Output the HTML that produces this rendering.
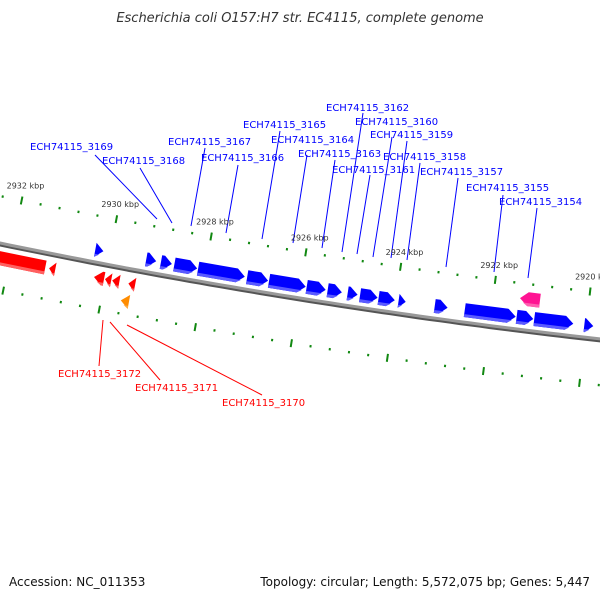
<!DOCTYPE html>
<html><head><meta charset="utf-8"><style>
body{margin:0;background:#fff}
svg{display:block;font-family:"DejaVu Sans","Liberation Sans",sans-serif}
</style></head><body>
<svg id="map" width="600" height="600" viewBox="0 0 600 600" xmlns="http://www.w3.org/2000/svg">
<text x="300" y="22" text-anchor="middle" font-size="13" font-style="italic" fill="#333">Escherichia coli O157:H7 str. EC4115, complete genome</text>
<g id="labels"></g>
<g id="ticks"></g>
<g id="backbone"></g>
<g id="genes"></g>
<text x="9" y="586" font-size="12" fill="#111">Accession: NC_011353</text>
<text x="590" y="586" text-anchor="end" font-size="12" fill="#111">Topology: circular; Length: 5,572,075 bp; Genes: 5,447</text>
</svg>
<script>
// gene data (kbp)
const fwdStarts=[2930.31,2929.24,2928.93,2928.65,2928.15,2927.12,2926.66,2925.87,2925.43,2925.01,2924.75,2924.36,2923.94,2923.18,2922.55,2921.46,2921.09,2920.04];
const fwdEnds  =[2930.14,2929.03,2928.70,2928.17,2927.17,2926.68,2925.89,2925.47,2925.13,2924.80,2924.38,2924.02,2923.79,2922.91,2921.48,2921.11,2920.27,2919.85];
const revStarts=[2932.40,2931.17,2930.23,2930.00,2929.85,2929.51];
const revEnds  =[2931.25,2931.04,2930.02,2929.87,2929.70,2929.37];
const otherFeat=[[2921.44,2921.02,-1],[2929.60,2929.43,1]];
const tickMajors=[2932,2930,2928,2926,2924,2922,2920];
const blueLabels=[
["ECH74115_3169",30,150,95,155,157,219],["ECH74115_3168",102,164,140,168,172,223],
["ECH74115_3167",168,145,205,148,191,226],["ECH74115_3166",201,161,238,165,226,233],
["ECH74115_3165",243,128,280,131,262,239],["ECH74115_3164",271,143,307,155,293,243],
["ECH74115_3163",298,157,335,160,322,248],["ECH74115_3162",326,111,363,113,342,252],
["ECH74115_3160",355,125,392,137,373,257],["ECH74115_3159",370,138,407,141,391,258],
["ECH74115_3161",332,173,370,175,357,254],["ECH74115_3158",383,160,420,163,407,260],
["ECH74115_3157",420,175,458,178,446,267],["ECH74115_3155",466,191,503,195,494,272],
["ECH74115_3154",499,205,537,208,528,278]];
const redLabels=[["ECH74115_3172",58,377,103,320,99,366],["ECH74115_3171",135,391,110,322,160,380],["ECH74115_3170",222,406,127,325,262,395]];

const NS="http://www.w3.org/2000/svg";
function by(x){return 243+0.2067*x-7.8e-5*x*x;}
function kx(k){return (2932.26-k)*47.7;}
function P(xb,off){const d=0.2067-1.56e-4*xb;const L=Math.hypot(1,d);const nx=-d/L,ny=1/L;return [xb+off*nx,by(xb)+off*ny];}
function mk(tag,attrs,parent){const e=document.createElementNS(NS,tag);for(const k in attrs)e.setAttribute(k,attrs[k]);parent.appendChild(e);return e;}
const ptsStr=a=>a.map(p=>p[0].toFixed(1)+","+p[1].toFixed(1)).join(" ");

// backbone
const bb=document.getElementById('backbone');
let d1="",d2="";for(let x=-10;x<=610;x+=10){d1+=(x==-10?"M":"L")+x+","+(by(x)+1.5).toFixed(1);d2+=(x==-10?"M":"L")+x+","+by(x).toFixed(1);}
let b1=mk('path',{d:d1,stroke:'#555',"stroke-width":4,fill:'none'},bb);


let b2=mk('path',{d:d2,stroke:'#999',"stroke-width":3,fill:'none'},bb);



// ticks
const tg=document.getElementById('ticks');
for(let i=0;i<=33;i++){const k=2932.8-i*0.4;const xb=kx(k);const major=tickMajors.some(m=>Math.abs(m-k)<0.01);
 for(const off of [-46,46]){const h=major?4:1.2;const a=P(xb,off-h),b=P(xb,off+h);
  const l=mk('line',{x1:a[0],y1:a[1],x2:b[0],y2:b[1],stroke:'#118811',"stroke-width":2},tg);
  
  }
 if(major){const u=P(xb,-46);const t=mk('text',{x:u[0]-15,y:u[1]-12,"font-size":8,fill:'#333'},tg);t.textContent=k+" kbp";
  
  }}

// genes
const gg=document.getElementById('genes');
function gene(s,e,o1,o2,dir,col,lt,name){const xa=kx(s),xe=kx(e);let x1=Math.min(xa,xe),x2=Math.max(xa,xe);const len=x2-x1;const hl=Math.min(8,len);
 const om=(o1+o2)/2;let pts;
 if(dir>0)pts=[P(x1,o1),P(x2-hl,o1),P(x2,om),P(x2-hl,o2),P(x1,o2)];
 else pts=[P(x2,o1),P(x1+hl,o1),P(x1,om),P(x1+hl,o2),P(x2,o2)];
 const g=mk('polygon',{points:ptsStr(pts),fill:col},gg);
 
 
 const ob=o2-3;let p2;
 if(dir>0)p2=[P(x1,ob),P(x2-hl*(o2-ob)/(o2-om),ob),P(x2-hl,o2),P(x1,o2)];
 else p2=[P(x2,ob),P(x1+hl*(o2-ob)/(o2-om),ob),P(x1+hl,o2),P(x2,o2)];
 const sh=mk('polygon',{points:ptsStr(p2),fill:lt},gg);
 
 }
for(let i=0;i<fwdStarts.length;i++)gene(fwdStarts[i],fwdEnds[i],-19,-5,1,'#0000ff','#5a5aff','forward-gene');
for(let i=0;i<revStarts.length;i++)gene(revStarts[i],revEnds[i],8,22,-1,'#ff0000','#ff6060','reverse-gene');
gene(otherFeat[0][0],otherFeat[0][1],-38,-24,0,'#ff1493','#ff5fb0','pink-feature');
gene(otherFeat[1][0],otherFeat[1][1],26,40,0,'#ff8c00','#ffaa40','orange-feature');

// labels
const lg=document.getElementById('labels');
function lab(a,col,nm){const l=mk('line',{x1:a[3],y1:a[4],x2:a[5],y2:a[6],stroke:col,"stroke-width":1},lg);
 
 
 const t=mk('text',{x:a[1],y:a[2],"font-size":10,fill:col},lg);t.textContent=a[0];
 
 }
blueLabels.forEach(a=>lab(a,'#0000ff','forward-gene-label'));
redLabels.forEach(a=>lab(a,'#ff0000','reverse-gene-label'));
</script>
</body></html>
